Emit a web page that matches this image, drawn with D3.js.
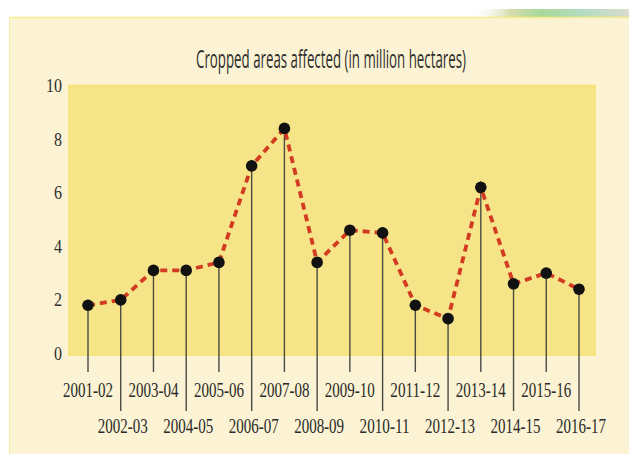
<!DOCTYPE html>
<html><head><meta charset="utf-8">
<script src="https://cdn.jsdelivr.net/npm/d3@7"></script>
<style>html,body{margin:0;padding:0;background:#fff;}svg{display:block;}</style>
</head><body>
<script>
const categories = ["2001-02","2002-03","2003-04","2004-05","2005-06","2006-07","2007-08","2008-09","2009-10","2010-11","2011-12","2012-13","2013-14","2014-15","2015-16","2016-17"];
const values = [1.8, 2.0, 3.1, 3.1, 3.4, 7.0, 8.4, 3.4, 4.6, 4.5, 1.8, 1.3, 6.2, 2.6, 3.0, 2.4];
const yTicks = [0, 2, 4, 6, 8, 10];
const title = "Cropped areas affected (in million hectares)";

const W = 629, H = 454;
const svg = d3.select("body").append("svg").attr("width", W).attr("height", H);
const defs = svg.append("defs");
const g1 = defs.append("linearGradient").attr("id","strip").attr("x1","0").attr("x2","1");
[["0%","#ffffff",0],["25%","#d6dcae",1],["45%","#a9d99a",1],["70%","#b3dcc0",1],["100%","#d9ddd0",1]]
  .forEach(([o,c,a])=>g1.append("stop").attr("offset",o).attr("stop-color",c).attr("stop-opacity",a));

svg.append("rect").attr("x",470).attr("y",9).attr("width",159).attr("height",8).attr("fill","url(#strip)");
svg.append("rect").attr("x",9).attr("y",17).attr("width",620).attr("height",437).attr("fill","#fbf3d3");
svg.append("line").attr("x1",9).attr("x2",629).attr("y1",17.5).attr("y2",17.5).attr("stroke","#f8ec8c").attr("stroke-width",1.5);
svg.append("line").attr("x1",9.5).attr("x2",9.5).attr("y1",17).attr("y2",454).attr("stroke","#f6eda0").attr("stroke-width",1);

const x = d3.scalePoint().domain(categories).range([88, 579]);
const y = d3.scaleLinear().domain([0, 10]).range([353.5, 85.5]);

svg.append("rect").attr("x",69).attr("y",y(10)).attr("width",526).attr("height",y(0)-y(10)+1.5)
  .attr("fill","#f6e488").attr("stroke","#f9e46c").attr("stroke-width",1.5);

// title, horizontally condensed via transform
const tg = svg.append("g");
const tt = tg.append("text").attr("x",0).attr("y",0).attr("text-anchor","middle")
  .attr("font-family","'Open Sans', sans-serif").attr("font-size",25).attr("fill","#2e2e2e")
  .text(title);
const natural = tt.node().getComputedTextLength();
const sx = 270 / natural;
tg.attr("transform", `translate(331,67.5) scale(${sx},1)`);

// y axis labels
const yAxis = d3.axisLeft(y).tickValues(yTicks).tickSize(0).tickPadding(0);
const ya = svg.append("g").attr("transform","translate(62,0)").call(yAxis);
ya.select(".domain").remove();
ya.selectAll("text").attr("font-family","'Liberation Serif', serif").attr("font-size",19).attr("fill","#2e2e2e")
  .attr("dy","0.32em").attr("textLength", d => d === 10 ? 16 : 8).attr("lengthAdjust","spacingAndGlyphs");

// stems
svg.append("g").selectAll("line").data(categories).join("line")
  .attr("x1", d => x(d)).attr("x2", d => x(d))
  .attr("y1", (d,i) => y(values[i]))
  .attr("y2", (d,i) => i % 2 === 0 ? 372 : 411)
  .attr("stroke","#4a4a44").attr("stroke-width",1.4);

// x labels
svg.append("g").selectAll("text").data(categories).join("text")
  .attr("x", (d,i) => x(d) + (i % 2 === 0 ? 0 : 2))
  .attr("y", (d,i) => i % 2 === 0 ? 397 : 433)
  .attr("text-anchor","middle")
  .attr("font-family","'Liberation Serif', serif").attr("font-size",20).attr("fill","#2a2a2a")
  .attr("textLength",50).attr("lengthAdjust","spacingAndGlyphs")
  .text(d => d);

// dashed line
const line = d3.line().x((d,i) => x(categories[i])).y(d => y(d));
svg.append("path").datum(values).attr("d", line).attr("fill","none")
  .attr("stroke","#d23a22").attr("stroke-width",3.8).attr("stroke-dasharray","7,5");

// dots
svg.append("g").selectAll("circle").data(values).join("circle")
  .attr("cx", (d,i) => x(categories[i])).attr("cy", d => y(d)).attr("r",5.8).attr("fill","#111");
</script>
</body></html>
